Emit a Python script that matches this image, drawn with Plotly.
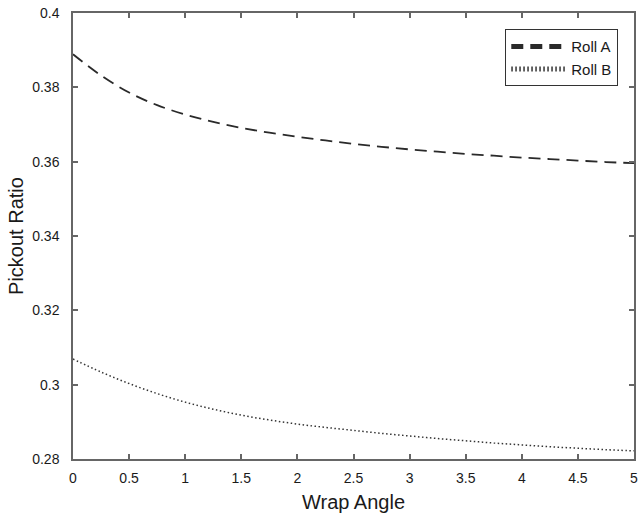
import plotly.graph_objects as go

wrap_angle = [0, 0.25, 0.5, 0.75, 1, 1.25, 1.5, 1.75, 2, 2.25, 2.5, 2.75, 3, 3.25, 3.5, 3.75, 4, 4.25, 4.5, 4.75, 5]
roll_a = [0.3889, 0.3832, 0.3786, 0.3752, 0.3727, 0.3707, 0.3691, 0.3678, 0.3667, 0.3657, 0.3648, 0.3640, 0.3633, 0.3627, 0.3621, 0.3616, 0.3611, 0.3607, 0.3603, 0.3599, 0.3596]
roll_b = [0.3069, 0.3034, 0.3003, 0.2976, 0.2953, 0.2934, 0.2918, 0.2905, 0.2894, 0.2885, 0.2877, 0.2869, 0.2862, 0.2855, 0.2849, 0.2843, 0.2838, 0.2833, 0.2829, 0.2825, 0.2822]

x_ticks = [0, 0.5, 1, 1.5, 2, 2.5, 3, 3.5, 4, 4.5, 5]
x_ticklabels = ["0", "0.5", "1", "1.5", "2", "2.5", "3", "3.5", "4", "4.5", "5"]
y_ticks = [0.28, 0.30, 0.32, 0.34, 0.36, 0.38, 0.40]
y_ticklabels = ["0.28", "0.3", "0.32", "0.34", "0.36", "0.38", "0.4"]

FONT = "Liberation Sans, Arial, sans-serif"
AX = "#666666"
TXT = "#1a1a1a"

fig = go.Figure()
fig.add_trace(go.Scatter(x=wrap_angle, y=roll_a, mode="lines", name="Roll A",
                         line=dict(color="#2a2a2a", width=1.8, dash="12px,7px", shape="spline")))
fig.add_trace(go.Scatter(x=wrap_angle, y=roll_b, mode="lines", name="Roll B",
                         line=dict(color="#333333", width=1.5, dash="1.5px,2.5px", shape="spline")))

axis_common = dict(showline=True, linecolor=AX, linewidth=1.5, mirror="ticks",
                   ticks="inside", ticklen=5, tickcolor=AX, tickwidth=1.5,
                   showgrid=False, zeroline=False,
                   tickfont=dict(family=FONT, size=14, color=TXT))

fig.update_xaxes(range=[0, 5], tickvals=x_ticks, ticktext=x_ticklabels,
                 ticklabelstandoff=5,
                 title=dict(text="Wrap Angle", font=dict(family=FONT, size=20, color=TXT), standoff=10),
                 **axis_common)
fig.update_yaxes(range=[0.28, 0.40], tickvals=y_ticks, ticktext=y_ticklabels,
                 ticklabelstandoff=9,
                 title=dict(text="Pickout Ratio", font=dict(family=FONT, size=20, color=TXT), standoff=3),
                 **axis_common)

fig.update_layout(
    width=643, height=516,
    margin=dict(l=73, r=5, t=13, b=57),
    paper_bgcolor="white", plot_bgcolor="white",
    showlegend=True,
    legend=dict(x=0.972, y=0.9635, xanchor="right", yanchor="top",
                bgcolor="white", bordercolor="#333333", borderwidth=1,
                font=dict(family=FONT, size=15, color=TXT),
                tracegroupgap=0, itemsizing="constant", itemwidth=55),
)

fig.write_html("out.html")
